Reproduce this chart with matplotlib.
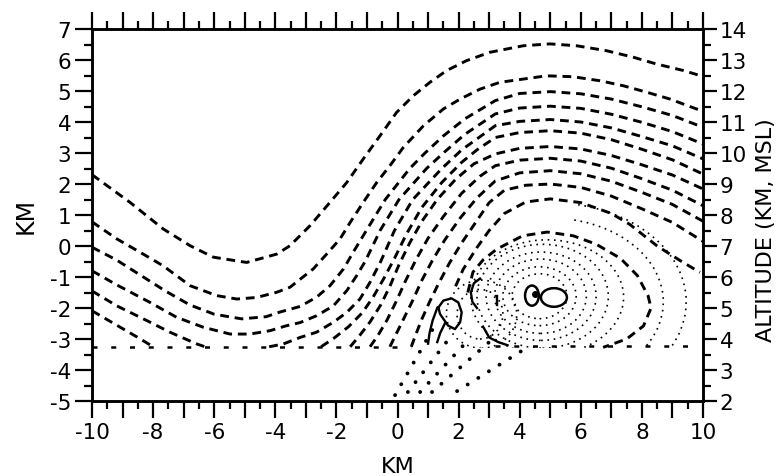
import matplotlib
matplotlib.use("Agg")
import matplotlib.pyplot as plt
from matplotlib.patches import Ellipse, Arc, Rectangle

# ---------------- data ----------------
x_ticks = [-10, -8, -6, -4, -2, 0, 2, 4, 6, 8, 10]
x_tick_labels = ["-10", "-8", "-6", "-4", "-2", "0", "2", "4", "6", "8", "10"]
y_ticks = list(range(-5, 8))
y_tick_labels = [str(v) for v in y_ticks]
alt_ticks = list(range(2, 15))
alt_tick_labels = [str(v) for v in alt_ticks]

# dashed streamlines (x, y) in km
line_1 = [(-10, 2.3), (-8.76, 1.41), (-7.67, 0.55), (-6.79, 0.01), (-6.03, -0.36),
          (-4.94, -0.53), (-3.95, -0.26), (-3.52, 0.01), (-2.86, 0.66), (-2.21, 1.41),
          (-1.66, 2.05), (-1.12, 2.81), (-0.57, 3.56), (-0.03, 4.31), (0.52, 4.85),
          (1.06, 5.28), (1.61, 5.66), (2.26, 5.98), (3.03, 6.25), (4.12, 6.46),
          (4.99, 6.52), (5.86, 6.46), (6.84, 6.30), (7.72, 6.09), (8.48, 5.87),
          (9.36, 5.66), (10, 5.47)]
line_2 = [(-10, 0.78), (-9.19, 0.23), (-8.43, -0.2), (-7.67, -0.64), (-6.79, -1.28),
          (-5.92, -1.6), (-5.26, -1.71), (-4.61, -1.66), (-3.95, -1.49), (-3.52, -1.33),
          (-2.76, -0.74), (-2.32, -0.26), (-1.88, 0.23), (-1.55, 0.76), (-1.12, 1.41),
          (-0.68, 2.05), (-0.25, 2.59), (0.19, 3.18), (0.85, 3.88), (1.5, 4.42),
          (2.05, 4.74), (2.7, 5.06), (3.35, 5.28), (4.88, 5.49), (5.75, 5.46),
          (6.63, 5.33), (7.39, 5.17), (8.16, 4.96), (8.92, 4.74), (9.79, 4.42), (10, 4.36)]
line_3 = [(-10, -0.04), (-9.2, -0.45), (-8.4, -0.95), (-7.6, -1.45), (-6.8, -1.9),
          (-6.0, -2.2), (-5.1, -2.35), (-4.3, -2.28), (-3.85, -2.13), (-3.19, -1.95),
          (-2.65, -1.65), (-2.21, -1.28), (-1.77, -0.74), (-1.45, -0.2), (-1.02, 0.5),
          (-0.4, 1.5), (0.4, 2.5), (0.9, 3.0), (1.5, 3.55), (2.2, 4.1), (3.2, 4.69),
          (4, 4.92), (5, 4.98), (6, 4.91), (7, 4.74), (8, 4.49), (9, 4.21), (10, 3.83)]
line_4 = [(-10, -0.8), (-9.2, -1.25), (-8.1, -1.82), (-7.23, -2.3), (-6.36, -2.62),
          (-5.48, -2.84), (-4.83, -2.84), (-4.17, -2.73), (-3.63, -2.57), (-3.19, -2.47),
          (-2.65, -2.25), (-2.1, -1.93), (-1.66, -1.44), (-1.34, -0.96), (-1.06, -0.5),
          (-0.57, 0.5), (0.05, 1.5), (0.95, 2.5), (1.5, 3.0), (2.2, 3.6), (3.2, 4.26),
          (4, 4.45), (5, 4.51), (6, 4.44), (7, 4.25), (8, 3.99), (9, 3.69), (10, 3.29)]
line_5a = [(-10, -1.45), (-9.19, -1.93), (-8.32, -2.35), (-7.45, -2.78), (-6.57, -3.16),
           (-6.3, -3.25)]
line_5b = [(-4.2, -3.25), (-3.74, -3.16), (-3.19, -2.95), (-2.65, -2.78), (-2.1, -2.46),
           (-1.66, -2.14), (-1.23, -1.71), (-0.9, -1.17), (-0.55, -0.5), (-0.1, 0.5),
           (0.5, 1.5), (1.45, 2.5), (2.1, 3.1), (3.2, 3.88), (4, 4.02), (5, 4.08),
           (6, 4.0), (7, 3.81), (8, 3.53), (9, 3.23), (10, 2.81)]
line_6a = [(-10, -2.09), (-9.2, -2.55), (-8.5, -2.95), (-8.0, -3.25)]
line_6b = [(-2.5, -3.25), (-2.05, -2.95), (-1.6, -2.6), (-1.15, -2.15), (-0.8, -1.65),
           (-0.45, -1.05), (-0.1, -0.4), (0.3, 0.4), (0.8, 1.25), (1.45, 2.05),
           (2.1, 2.7), (2.6, 3.1), (3.2, 3.5), (4, 3.66), (5, 3.72), (6, 3.64),
           (7, 3.43), (8, 3.12), (9, 2.78), (10, 2.32)]
line_7 = [(-1.55, -3.25), (-1.25, -2.9), (-0.9, -2.45), (-0.55, -1.9), (-0.25, -1.3),
          (0.05, -0.6), (0.4, 0.1), (0.8, 0.8), (1.3, 1.5), (1.9, 2.15), (2.5, 2.65),
          (3.2, 2.97), (4, 3.15), (5, 3.21), (6, 3.13), (7, 2.92), (8, 2.62),
          (9, 2.29), (10, 1.84)]
line_8 = [(-0.9, -3.25), (-0.65, -2.9), (-0.35, -2.4), (-0.05, -1.8), (0.25, -1.15),
          (0.6, -0.45), (1.0, 0.25), (1.5, 0.95), (2.1, 1.7), (2.7, 2.25), (3.2, 2.59),
          (4, 2.77), (5, 2.83), (6, 2.74), (7, 2.51), (8, 2.17), (9, 1.8), (10, 1.3)]
line_9 = [(-0.25, -3.25), (-0.05, -2.85), (0.2, -2.35), (0.5, -1.75), (0.8, -1.1),
          (1.15, -0.45), (1.55, 0.2), (2.05, 0.9), (2.6, 1.55), (3.2, 2.1), (4, 2.36),
          (5, 2.43), (6, 2.33), (7, 2.09), (8, 1.73), (9, 1.34), (10, 0.8)]
line_10 = [(0.45, -3.25), (0.6, -2.85), (0.8, -2.35), (1.05, -1.8), (1.35, -1.2),
           (1.7, -0.55), (2.1, 0.1), (2.55, 0.75), (3.0, 1.4), (3.5, 1.8), (4.2, 1.96),
           (5, 2.0), (6, 1.89), (7, 1.61), (8, 1.2), (9, 0.76), (10, 0.15)]
line_11 = [(1.9, -1.3), (2.15, -0.75), (2.6, -0.05), (3.0, 0.5), (3.5, 1.05),
           (4.2, 1.42), (5, 1.52), (6, 1.4), (7, 1.05), (7.6, 0.7), (8.5, 0.0),
           (9.3, -0.5), (9.9, -0.85)]
loop_12 = [(2.3, -1.5), (2.47, -0.84), (2.8, -0.45), (3.25, -0.1), (4.1, 0.33),
           (4.9, 0.45), (5.75, 0.33), (6.5, 0.06), (7.3, -0.4), (7.85, -0.95),
           (8.2, -1.6), (8.3, -2.0), (8.05, -2.58), (7.5, -3.0), (6.73, -3.27)]
floor_left = [(-10, -3.27), (0.45, -3.27)]
floor_right = [(3.2, -3.22), (9.6, -3.22)]

streamlines = [line_1, line_2, line_3, line_4, line_5a, line_5b, line_6a, line_6b,
               line_7, line_8, line_9, line_10, line_11, loop_12]

# dotted closed contours around the vortex: (cx, cy, width, height)
vortex_rings = [(4.65, -1.62, 1.8, 1.45), (4.65, -1.62, 2.4, 1.9),
                (4.68, -1.62, 3.0, 2.4), (4.7, -1.62, 3.6, 2.85),
                (4.75, -1.62, 4.3, 3.35), (4.9, -1.65, 5.0, 3.7)]
outer_arcs = [(5.0, -1.8, 7.4, 5.4), (5.0, -1.8, 8.9, 6.4)]
side_rings = [(2.7, -2.2, 1.5, 1.6), (2.75, -2.2, 2.3, 2.2)]

# heavy dotted rays from the lower left
rays = [((-0.08, -4.81), (1.2, -2.6)), ((0.34, -4.71), (1.6, -3.1)),
        ((0.74, -4.71), (2.3, -3.05)), ((1.13, -4.71), (3.0, -3.1)),
        ((1.95, -4.68), (4.2, -3.3))]

# solid small contours
solid_loop_a = [(1.34, -1.98), (1.5, -1.76), (1.77, -1.69), (1.99, -1.82), (2.1, -2.14),
                (2.05, -2.46), (1.88, -2.68), (1.66, -2.57), (1.5, -2.35), (1.39, -2.19),
                (1.34, -1.98)]
solid_tail_a = [(1.3, -2.0), (1.15, -2.4), (1.05, -2.8), (1.0, -3.15)]
solid_tail_b = [(1.55, -2.5), (1.4, -2.8), (1.3, -3.1)]
solid_arc_c = [(2.7, -1.05), (2.5, -1.2), (2.4, -1.5), (2.45, -1.8), (2.6, -2.0)]
solid_arc_d = [(2.8, -2.6), (3.0, -2.95), (3.3, -3.1), (3.6, -3.2)]
solid_dash_e = [(3.26, -1.6), (3.26, -1.9)]
solid_pieces = [solid_loop_a, solid_tail_a, solid_tail_b, solid_arc_c, solid_arc_d,
                solid_dash_e]
core_loops = [(4.4, -1.6, 0.45, 0.65), (5.12, -1.66, 0.85, 0.6)]
core_dot = (4.5, -1.55)

# ---------------- drawing ----------------
plt.rcParams["font.family"] = ["DejaVu Sans"]
plt.rcParams["axes.unicode_minus"] = False

fig = plt.figure(figsize=(7.78, 4.77), dpi=100)
ax = fig.add_axes([0.1183, 0.1572, 0.7853, 0.7799])
ax.set_xlim(-10, 10)
ax.set_ylim(-5, 7)

clip = Rectangle((-10, -3.3), 20, 10.3, transform=ax.transData)

for pts in streamlines:
    xs = [p[0] for p in pts]
    ys = [p[1] for p in pts]
    ax.plot(xs, ys, color="black", lw=2.1, linestyle=(0, (3.0, 2.0)),
            dash_capstyle="butt")
for pts in (floor_left, floor_right):
    ax.plot([p[0] for p in pts], [p[1] for p in pts], color="black", lw=1.8,
            linestyle=(0, (2.0, 5.5)))

for cx, cy, w, h in vortex_rings + side_rings:
    e = Ellipse((cx, cy), w, h, fill=False, edgecolor="black", lw=1.2,
                linestyle=(0, (1, 2.8)))
    ax.add_patch(e)
    e.set_clip_path(clip)
for cx, cy, w, h in outer_arcs:
    a = Arc((cx, cy), w, h, theta1=-90, theta2=75, edgecolor="black", lw=1.2,
            linestyle=(0, (1, 2.8)))
    ax.add_patch(a)
    a.set_clip_path(clip)

for (x0, y0), (x1, y1) in rays:
    ax.plot([x0, x1], [y0, y1], color="black", lw=2.8,
            linestyle=(0, (0.01, 3.2)), dash_capstyle="round")

for pts in solid_pieces:
    ax.plot([p[0] for p in pts], [p[1] for p in pts], color="black", lw=1.7)
for cx, cy, w, h in core_loops:
    ax.add_patch(Ellipse((cx, cy), w, h, fill=False, edgecolor="black", lw=1.8))
ax.plot([core_dot[0]], [core_dot[1]], "o", color="black", ms=4)

# axes styling
for s in ax.spines.values():
    s.set_linewidth(1.8)
ax.set_xticks(list(range(-10, 11)))
ax.set_xticklabels([x_tick_labels[x_ticks.index(v)] if v in x_ticks else ""
                    for v in range(-10, 11)])
ax.set_xticks([v * 0.5 for v in range(-20, 21)], minor=True)
ax.set_yticks(y_ticks)
ax.set_yticklabels(y_tick_labels)
ax.set_yticks([v * 0.5 for v in range(-10, 15)], minor=True)
ax.tick_params(which="both", direction="out", top=True, width=1.6, labelsize=15.5)
ax.tick_params(axis="x", which="major", length=12, pad=3)
ax.tick_params(axis="x", which="minor", length=6)
ax.tick_params(axis="y", which="major", length=12, pad=3)
ax.tick_params(axis="y", which="minor", length=6)

ax2 = ax.twinx()
ax2.set_ylim(2, 14)
ax2.set_yticks(alt_ticks)
ax2.set_yticklabels(alt_tick_labels)
ax2.set_yticks([v * 0.5 for v in range(4, 29)], minor=True)
ax2.tick_params(which="both", direction="out", width=1.6, labelsize=15.5)
ax2.tick_params(which="major", length=10, pad=2)
ax2.tick_params(which="minor", length=6)
for s in ax2.spines.values():
    s.set_linewidth(1.8)

ax.set_xlabel("KM", fontsize=16, va="center")
ax.xaxis.set_label_coords(0.5, -0.175)
ax.set_ylabel("KM", fontsize=17, va="center")
ax.yaxis.set_label_coords(-0.109, 0.5)
ax2.set_ylabel("ALTITUDE (KM, MSL)", fontsize=16, va="center", rotation=90)
ax2.yaxis.set_label_coords(1.103, 0.462)

fig.savefig("out.png", dpi=100)
